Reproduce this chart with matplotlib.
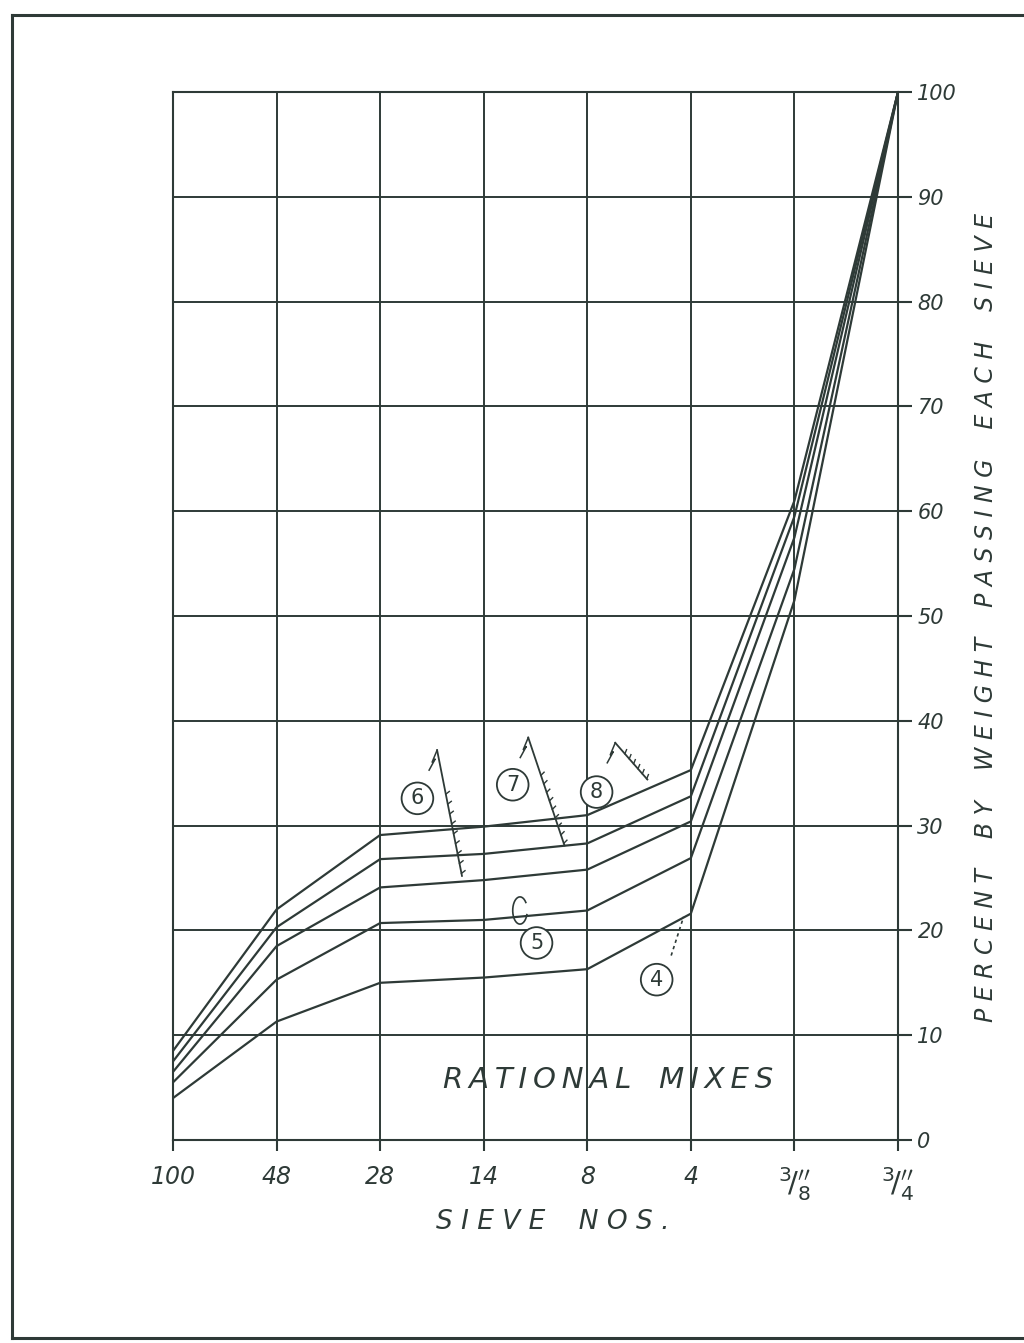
import matplotlib
matplotlib.use('Agg')
import matplotlib.pyplot as plt
import numpy as np

# Sieve sizes, finest on the left, and percent passing for each rational mix
sieves = ['100', '48', '28', '14', '8', '4', '3/8', '3/4']
mix_4 = [4.0, 11.3, 15.0, 15.5, 16.3, 21.6, 51.5, 100]
mix_5 = [5.5, 15.3, 20.7, 21.0, 21.9, 26.9, 54.5, 100]
mix_6 = [6.5, 18.5, 24.1, 24.8, 25.8, 30.4, 57.5, 100]
mix_7 = [7.5, 20.3, 26.8, 27.3, 28.3, 32.8, 59.5, 100]
mix_8 = [8.5, 22.0, 29.1, 29.9, 31.0, 35.3, 61.0, 100]
mixes = [mix_4, mix_5, mix_6, mix_7, mix_8]
y_ticks = list(range(0, 101, 10))

INK = '#2e3a37'
W, H = 1024, 1343
plt.rcParams['mathtext.fontset'] = 'dejavusans'


def sieve_label(s):
    # inch sizes lettered as a slanted fraction with an inch mark
    if '/' in s:
        num, den = s.split('/')
        return r'$^{\mathsf{%s}}\!\mathsf{/}_{\mathsf{%s}}^{\prime\prime}$' % (num, den)
    return s


fig = plt.figure(figsize=(W / 100, H / 100), dpi=100)
fig.patch.set_facecolor('white')

# page border
border = fig.add_axes([0, 0, 1, 1], zorder=-1)
border.set_xlim(0, W); border.set_ylim(H, 0); border.axis('off')
border.plot([12, W], [15, 15], color=INK, lw=2.2)
border.plot([12, 12], [15, 1338], color=INK, lw=2.2)
border.plot([12, W], [1338, 1338], color=INK, lw=2.2)

ax = fig.add_axes([173 / W, 1 - 1140 / H, 725 / W, 1048 / H])
ax.set_xlim(0, 7)
ax.set_ylim(0, 100)
ax.set_facecolor('none')
for s in ax.spines.values():
    s.set_color(INK); s.set_linewidth(1.5)

ax.set_xticks(range(len(sieves)))
ax.set_xticklabels([sieve_label(s) for s in sieves], fontsize=17, style='italic', color=INK)
for lbl, s in zip(ax.get_xticklabels(), sieves):
    if '/' in s:
        lbl.set_fontsize(21)
ax.set_yticks(y_ticks)
ax.set_yticklabels([str(v) for v in y_ticks], fontsize=15, style='italic', color=INK)
ax.yaxis.tick_right()
ax.tick_params(axis='x', direction='out', length=8, width=1.5, color=INK, pad=10)
ax.tick_params(axis='y', direction='out', length=10, width=1.5, color=INK, pad=4)
ax.grid(True, color=INK, lw=1.4)
ax.set_axisbelow(True)

x = np.arange(len(sieves))
for m in mixes:
    ax.plot(x, m, color=INK, lw=1.6, zorder=3)

fig.canvas.draw()
to_px = ax.transData
to_data = ax.transData.inverted()


def leader(x0, y0, x1, y1, hatch_start=0.35, n_hatch=9, flag=True):
    # leader line with short hatch ticks on its lower part and a small flag at the top
    p0 = to_px.transform((x0, y0)); p1 = to_px.transform((x1, y1))
    ax.plot([x0, x1], [y0, y1], color=INK, lw=1.3, zorder=4)
    d = p1 - p0
    L = np.hypot(*d)
    u = d / L
    nrm = np.array([u[1], -u[0]])
    if nrm[0] < 0:
        nrm = -nrm
    for t in np.linspace(hatch_start, 0.98, n_hatch):
        a = p0 + d * t
        b = a + nrm * 4 - u * 2
        (ax_, ay_), (bx_, by_) = to_data.transform([a, b])
        ax.plot([ax_, bx_], [ay_, by_], color=INK, lw=1.0, zorder=4)
    if flag:
        pts = p0 + np.array([[0, 0], [-5, -12], [-2, -9], [-8, -20]])
        dpts = to_data.transform(pts)
        ax.plot(dpts[:, 0], dpts[:, 1], color=INK, lw=1.1, zorder=4)


def tag(xc, yc, label):
    ax.text(xc, yc, label, ha='center', va='center', fontsize=15, color=INK,
            zorder=6, bbox=dict(boxstyle='circle,pad=0.28', fc='white', ec=INK, lw=1.3))


tag(2.36, 32.6, '6')
leader(2.55, 37.2, 2.79, 25.2)
tag(3.28, 33.9, '7')
leader(3.43, 38.4, 3.78, 28.1)
tag(4.09, 33.2, '8')
leader(4.27, 37.9, 4.58, 34.4, hatch_start=0.3, n_hatch=6)
tag(3.51, 18.8, '5')
tag(4.67, 15.3, '4')

# small hook from label 5 onto its line
th = np.linspace(0.2 * np.pi, 1.9 * np.pi, 30)
ax.plot(3.35 + 0.07 * np.cos(th), 21.9 + 1.3 * np.sin(th), color=INK, lw=1.2, zorder=4)
# dashed leader from label 4
ax.plot([4.81, 4.93], [17.6, 21.3], color=INK, lw=1.2, ls=(0, (2, 2)), zorder=4)

THIN = '\u2009'
ax.text(4.2, 5.7, '   '.join(THIN.join(w) for w in ['RATIONAL', 'MIXES']),
        ha='center', va='center', fontsize=21, style='italic', color=INK)

ylab = '    '.join(' '.join(w) for w in 'PERCENT BY WEIGHT PASSING EACH SIEVE'.split())
fig.text(986 / W, 1 - 617 / H, ylab, rotation=90, ha='center', va='center',
         fontsize=17, style='italic', color=INK)
xlab = '    '.join(' '.join(w) for w in 'SIEVE NOS.'.split())
fig.text(553 / W, 1 - 1222 / H, xlab, ha='center', va='center',
         fontsize=19, style='italic', color=INK)

fig.savefig('out.png', dpi=100, facecolor='white')
